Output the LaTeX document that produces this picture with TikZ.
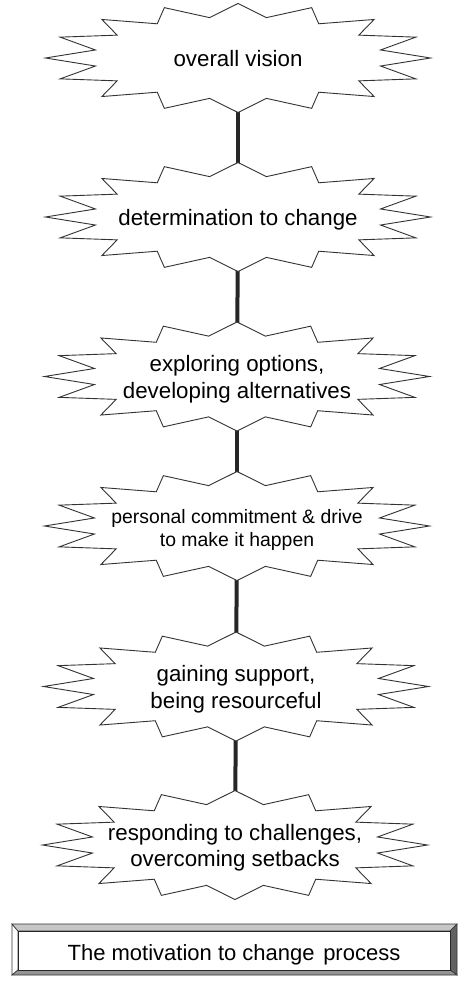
\documentclass[tikz,border=0pt]{standalone}
\usepackage{fontspec}
\setmainfont{Liberation Sans}
\usetikzlibrary{calc}
\pgfdeclarelayer{bg}
\pgfdeclarelayer{mid}
\pgfsetlayers{bg,mid,main}
\newcommand\drawburst[1]{%
  \draw[burst, shift={(#1)}] (0,54.5)
    \foreach \i in {0,...,15}{
      -- ({0.755*192.5*cos(78.75-22.5*\i)},{0.755*54.5*sin(78.75-22.5*\i)})
      -- ({192.5*cos(67.5-22.5*\i)},{54.5*sin(67.5-22.5*\i)})
    } -- cycle;}
\begin{document}
\begin{tikzpicture}[x=1pt,y=1pt,
  burst/.style={draw=black!80, line width=0.9pt, fill=white, line join=miter},
  conn/.style={draw=black!85, line width=4pt},
  lbl/.style={anchor=base, align=center, inner sep=0pt, font=\fontsize{22.3}{26.6}\selectfont},
  lblsmall/.style={lbl, font=\fontsize{19.4}{23.4}\selectfont},
  bevel/.style={draw=black!80, line width=0.6pt}]
\useasboundingbox (0,0) rectangle (459,-982);
\coordinate (b1) at (238,-58);
\coordinate (b2) at (238,-217);
\coordinate (b3) at (237,-376.5);
\coordinate (b4) at (237,-526);
\coordinate (b5) at (236,-686.5);
\coordinate (b6) at (235,-845);

\node[lbl] (t1) at ($(b1)+(0,-8.7)$) {overall vision};
\node[lbl] (t2) at ($(b2)+(0,-8)$) {determination to change};
\node[lbl] (t3) at ($(b3)+(0,-21.8)$) {exploring options,\\developing alternatives};
\node[lblsmall] (t4) at ($(b4)+(0,-20.7)$) {personal commitment \& drive\\to make it happen};
\node[lbl] (t5) at ($(b5)+(0,-21.8)$) {gaining support,\\being resourceful};
\node[lbl] (t6) at ($(b6)+(0,-21.7)$) {responding to challenges,\\overcoming setbacks};

\begin{pgfonlayer}{bg}
  \fill[white] (0,0) rectangle (459,-982);
  \draw[conn] (b1) -- (b2);
  \draw[conn] (b2) -- (b3);
  \draw[conn] (b3) -- (b4);
  \draw[conn] (b4) -- (b5);
  \draw[conn] (b5) -- (b6);
\end{pgfonlayer}
\begin{pgfonlayer}{mid}
  \drawburst{b1}
  \drawburst{b2}
  \drawburst{b3}
  \drawburst{b4}
  \drawburst{b5}
  \drawburst{b6}
\end{pgfonlayer}

% bevelled title frame
\fill[white, bevel] (12,-924) -- (18,-931) -- (18,-970) -- (12,-975) -- cycle;
\fill[black!22, bevel] (12,-924) -- (457,-924) -- (450,-931) -- (18,-931) -- cycle;
\fill[black!62, bevel] (457,-924) -- (457,-975) -- (450,-970) -- (450,-931) -- cycle;
\fill[black!42, bevel] (12,-975) -- (457,-975) -- (450,-970) -- (18,-970) -- cycle;
\node[draw=black!85, line width=0.7pt, fill=white, minimum width=432pt, minimum height=39pt,
  inner sep=0pt, text height=19pt, text depth=0pt, font=\fontsize{22}{26}\selectfont]
  (title) at (234,-950.5) {The motivation to change\hspace{2.5pt} process};
\end{tikzpicture}
\end{document}
